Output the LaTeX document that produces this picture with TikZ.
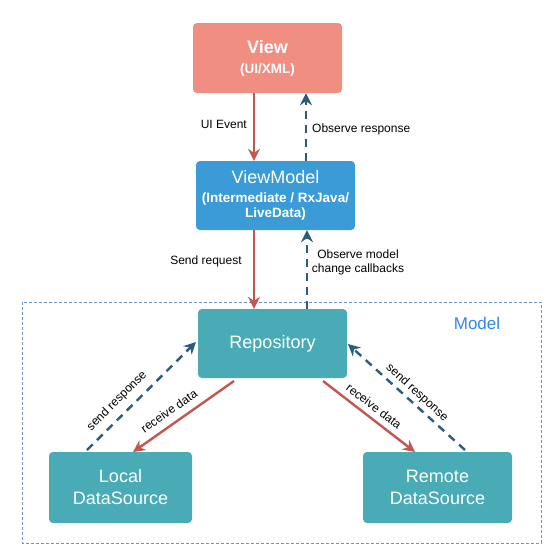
\documentclass[tikz,border=0pt]{standalone}
\usepackage{fontspec}
\setmainfont{Liberation Sans}
\usetikzlibrary{arrows.meta}
\definecolor{viewc}{HTML}{F08E82}
\definecolor{vmc}{HTML}{3A9BD6}
\definecolor{repoc}{HTML}{48ABB6}
\definecolor{redarr}{HTML}{C4554F}
\definecolor{bluearr}{HTML}{2D5B7C}
\definecolor{modelc}{HTML}{3385EE}
\definecolor{framec}{HTML}{6F93C8}
\tikzset{
  box/.style={rounded corners=4pt, text=white, align=center, inner sep=0pt, font=\fontsize{18}{21}\selectfont},
  redline/.style={draw=redarr, line width=2.4pt, -{Stealth[length=12pt,width=12pt,inset=4pt]}},
  blueline/.style={draw=bluearr, line width=2.4pt, dash pattern=on 8pt off 6pt, -{Stealth[length=12pt,width=12pt,inset=4pt]}},
  lbl/.style={font=\fontsize{12}{14}\selectfont, text=black, align=center, inner sep=1pt},
}
\newcommand{\subfnt}{\fontsize{13.5}{16}\selectfont\bfseries}
\begin{document}
\begin{tikzpicture}[x=1pt,y=-1pt]
\useasboundingbox (0,0) rectangle (552,552);
% model frame
\draw[framec, line width=0.8pt, dash pattern=on 3pt off 2pt] (22,302) rectangle (541,543);
\node[text=modelc, font=\fontsize{17}{19}\selectfont] (modellbl) at (477,323) {Model};
% boxes
\node[box, fill=viewc, minimum width=149pt, minimum height=70pt] (view) at (267.5,58)
  {\bfseries View\\[-1pt]\subfnt (UI/XML)};
\node[box, fill=vmc, minimum width=159pt, minimum height=69pt] (vm) at (275.5,195.5)
  {ViewModel\\[-2pt]\subfnt (Intermediate / RxJava/\\[-6pt]\subfnt LiveData)};
\node[box, fill=repoc, minimum width=149pt, minimum height=69pt] (repo) at (272.5,343.5)
  {Repository};
\node[box, fill=repoc, minimum width=143pt, minimum height=71pt] (local) at (120.5,487.5)
  {Local\\[1pt]DataSource};
\node[box, fill=repoc, minimum width=149pt, minimum height=71pt] (remote) at (437.5,487.5)
  {Remote\\[1pt]DataSource};
% view <-> vm
\draw[redline] (view.south -| 254,0) -- (vm.north -| 254,0);
\draw[blueline] (vm.north -| 306,0) -- (view.south -| 306,0);
\node[lbl, anchor=east] (uilbl) at (248,124) {UI Event};
\node[lbl, anchor=west] (obslbl) at (311,129) {Observe response};
% vm <-> repo
\draw[redline] (vm.south -| 254,0) -- (repo.north -| 254,0);
\draw[blueline] (repo.north -| 307,0) -- (vm.south -| 307,0);
\node[lbl] (sendlbl) at (206,261) {Send request};
\node[lbl] (obsmlbl) at (358,262) {Observe model\\change callbacks};
% repo <-> local
\coordinate (r1) at (234,381);
\coordinate (l1) at (133,452);
\draw[redline] (r1) -- (l1);
\coordinate (l2) at (87,450);
\coordinate (r2) at (196,342);
\draw[blueline] (l2) -- (r2);
\node[lbl, rotate=35] (rcv1) at (169,411) {receive data};
\node[lbl, rotate=45] (snd1) at (117,401) {send response};
% repo <-> remote
\coordinate (r3) at (323,381);
\coordinate (m1) at (415,452);
\draw[redline] (r3) -- (m1);
\coordinate (m2) at (465,450);
\coordinate (r4) at (348,344);
\draw[blueline] (m2) -- (r4);
\node[lbl, rotate=-37] (rcv2) at (374,406) {receive data};
\node[lbl, rotate=-42] (snd2) at (417,393) {send response};
\end{tikzpicture}
\end{document}
